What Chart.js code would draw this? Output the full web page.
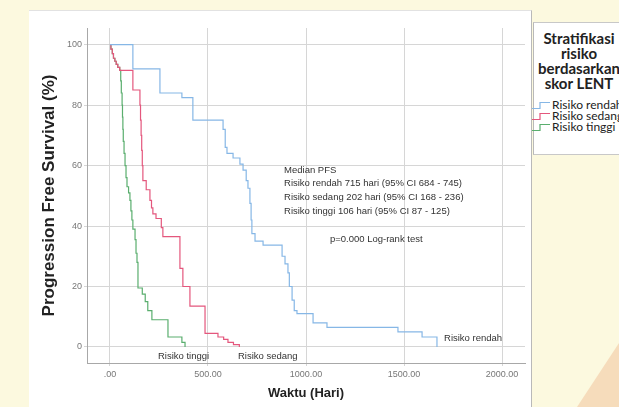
<!DOCTYPE html>
<html>
<head>
<meta charset="UTF-8">
<title>Progression Free Survival</title>
<script src="https://cdn.jsdelivr.net/npm/chart.js"></script>
<style>
  html, body { margin: 0; padding: 0; }
  body { width: 619px; height: 407px; overflow: hidden; background: #fcf9df; position: relative; font-family: "Liberation Sans", Arial, sans-serif; }
  #corner { position: absolute; left: 0; top: 0; width: 619px; height: 407px; }
  #panel { position: absolute; left: 29px; top: 10px; width: 503px; height: 397px; background: #fff; border-top: 1px solid #e2e2e2; border-right: 1px solid #b9b9b9; box-sizing: border-box; }
  #chart { position: absolute; left: 29px; top: 10px; }
  #legend { position: absolute; left: 533px; top: 22px; width: 92px; height: 133px; background: #fff; border-top: 1px solid #c8c8c8; border-bottom: 1px solid #c8c8c8; border-left: 1px solid #b9b9b9; box-sizing: border-box; font-family: Lato, sans-serif; color: #222; }
  #legend .title { position: absolute; left: 0; top: 8px; width: 90px; text-align: center; font-weight: bold; font-size: 15px; line-height: 15px; white-space: nowrap; }
  #legend .item { position: absolute; left: -2px; font-size: 12px; line-height: 11px; white-space: nowrap; }
  #legend svg { vertical-align: middle; margin-right: 2px; }
</style>
</head>
<body>
<svg id="corner" width="619" height="407"><polygon points="577,407 619,343 619,407" fill="#f6dcbb"/></svg>
<div id="panel"></div>
<canvas id="chart" width="503" height="397"></canvas>
<div id="legend">
  <div class="title">Stratifikasi<br>risiko<br>berdasarkan<br>skor LENT</div>
</div>
<script>
// Kaplan-Meier PFS curves (days, % survival)
const rendahX = [0, 117, 255, 367, 423, 577, 588, 597, 628, 663, 679, 695, 704, 714, 720, 724, 740, 781, 878, 893, 908, 915, 929, 940, 954, 1036, 1107, 1469, 1592, 1668];
const rendahY = [100, 92, 84, 82.5, 75, 72, 66, 64, 62.5, 60.5, 58.5, 55, 52.5, 47.5, 42, 37.5, 35, 33.7, 30, 27.5, 24.5, 20, 15.5, 12, 11, 8, 6.5, 5, 3.3, 0];

const sedangX = [0, 5, 12, 18, 25, 32, 40, 50, 117, 153, 156, 159, 162, 165, 168, 185, 204, 212, 219, 235, 262, 270, 357, 372, 408, 485, 551, 580, 602, 630, 660];
const sedangY = [100, 98.5, 97, 95.5, 94.5, 93.5, 92.5, 91.5, 85, 80, 75, 70, 65, 60, 55, 52, 48.5, 46, 44, 42.5, 39.5, 36.5, 26, 20, 13.5, 4.5, 3.3, 2.5, 1.5, 0.8, 0];

const tinggiX = [0, 5, 12, 18, 25, 32, 40, 50, 55, 58, 62, 64, 66, 68, 72, 77, 82, 87, 95, 102, 107, 112, 117, 128, 133, 138, 143, 165, 180, 193, 214, 296, 367, 383];
const tinggiY = [100, 98.5, 97, 95.5, 94.5, 93.5, 92.5, 91.5, 88, 84, 80, 76, 72, 68, 64, 60, 56, 53, 51, 48.5, 45, 42, 39, 35.5, 31, 28, 19.5, 17.5, 15, 12, 9, 3.3, 1.5, 0];

const seriesNames = ['Risiko rendah', 'Risiko sedang', 'Risiko tinggi'];
const seriesColors = ['#86b7e6', '#e4577d', '#5aae6e'];

const xTicks = [0, 500, 1000, 1500, 2000];
const yTicks = [0, 20, 40, 60, 80, 100];

// text placed on the plot, in data units
const notes = [
  { text: 'Median PFS', x: 888, y: 58.5 },
  { text: 'Risiko rendah 715 hari (95% CI 684 - 745)', x: 888, y: 54 },
  { text: 'Risiko sedang 202 hari (95% CI 168 - 236)', x: 888, y: 49.4 },
  { text: 'Risiko tinggi 106 hari (95% CI 87 - 125)', x: 888, y: 44.8 },
  { text: 'p=0.000 Log-rank test', x: 1122, y: 35.7 },
  { text: 'Risiko rendah', x: 1704, y: 3 },
  { text: 'Risiko tinggi', x: 245, y: -3 },
  { text: 'Risiko sedang', x: 653, y: -3 }
];

const toPoints = (xs, ys) => xs.map((x, i) => ({ x: x, y: ys[i] }));
const seriesData = [toPoints(rendahX, rendahY), toPoints(sedangX, sedangY), toPoints(tinggiX, tinggiY)];

// legend on the right
const legend = document.getElementById('legend');
seriesNames.forEach((name, i) => {
  const el = document.createElement('div');
  el.className = 'item';
  el.style.top = (76 + i * 11) + 'px';
  el.innerHTML = '<svg width="18" height="9"><polyline points="0,7.5 8,7.5 8,1.5 18,1.5" fill="none" stroke="' + seriesColors[i] + '" stroke-width="1.2"/></svg>' + name;
  legend.appendChild(el);
});

const notesPlugin = {
  id: 'notes',
  afterDatasetsDraw(chart) {
    const { ctx, scales: { x, y } } = chart;
    ctx.save();
    ctx.font = '9.5px "Liberation Sans", Arial, sans-serif';
    ctx.fillStyle = '#333';
    ctx.textAlign = 'left';
    ctx.textBaseline = 'middle';
    notes.forEach(n => ctx.fillText(n.text, x.getPixelForValue(n.x), y.getPixelForValue(n.y)));
    ctx.restore();
  }
};

new Chart(document.getElementById('chart'), {
  type: 'line',
  data: {
    datasets: seriesNames.map((name, i) => ({
      label: name,
      data: seriesData[i],
      borderColor: seriesColors[i],
      borderWidth: 1.2,
      stepped: 'before',
      pointRadius: 0,
      fill: false
    }))
  },
  options: {
    responsive: false,
    animation: false,
    devicePixelRatio: 1,
    layout: { padding: { left: 0, top: 18, right: 7, bottom: 0 } },
    plugins: { legend: { display: false }, tooltip: { enabled: false } },
    scales: {
      x: {
        type: 'linear',
        min: -117,
        max: 2117,
        afterBuildTicks: s => { s.ticks = xTicks.map(v => ({ value: v })); },
        afterFit: s => { s.height = 44; },
        grid: { color: '#d6d6d6', tickLength: 3 },
        border: { color: '#a8a8a8' },
        ticks: {
          padding: 3,
          maxRotation: 0,
          color: '#777',
          font: { family: '"Liberation Sans", Arial, sans-serif', size: 9 },
          callback: v => v === 0 ? '.00' : v.toFixed(2)
        },
        title: {
          display: true,
          text: 'Waktu (Hari)',
          color: '#222',
          font: { family: '"Liberation Sans", Arial, sans-serif', size: 13, weight: 'bold' },
          padding: { top: 0, bottom: 6 }
        }
      },
      y: {
        min: -5.3,
        max: 105.5,
        afterBuildTicks: s => { s.ticks = yTicks.map(v => ({ value: v })); },
        afterFit: s => { s.width = 58; },
        grid: { color: '#d6d6d6', tickLength: 3 },
        border: { color: '#a8a8a8' },
        ticks: {
          padding: 2,
          color: '#777',
          font: { family: '"Liberation Sans", Arial, sans-serif', size: 9 }
        },
        title: {
          display: true,
          text: 'Progression Free Survival (%)',
          color: '#222',
          font: { family: '"Liberation Sans", Arial, sans-serif', size: 17, weight: 'bold' },
          padding: { top: 10.5, bottom: 0 }
        }
      }
    }
  },
  plugins: [notesPlugin]
});
</script>
</body>
</html>
